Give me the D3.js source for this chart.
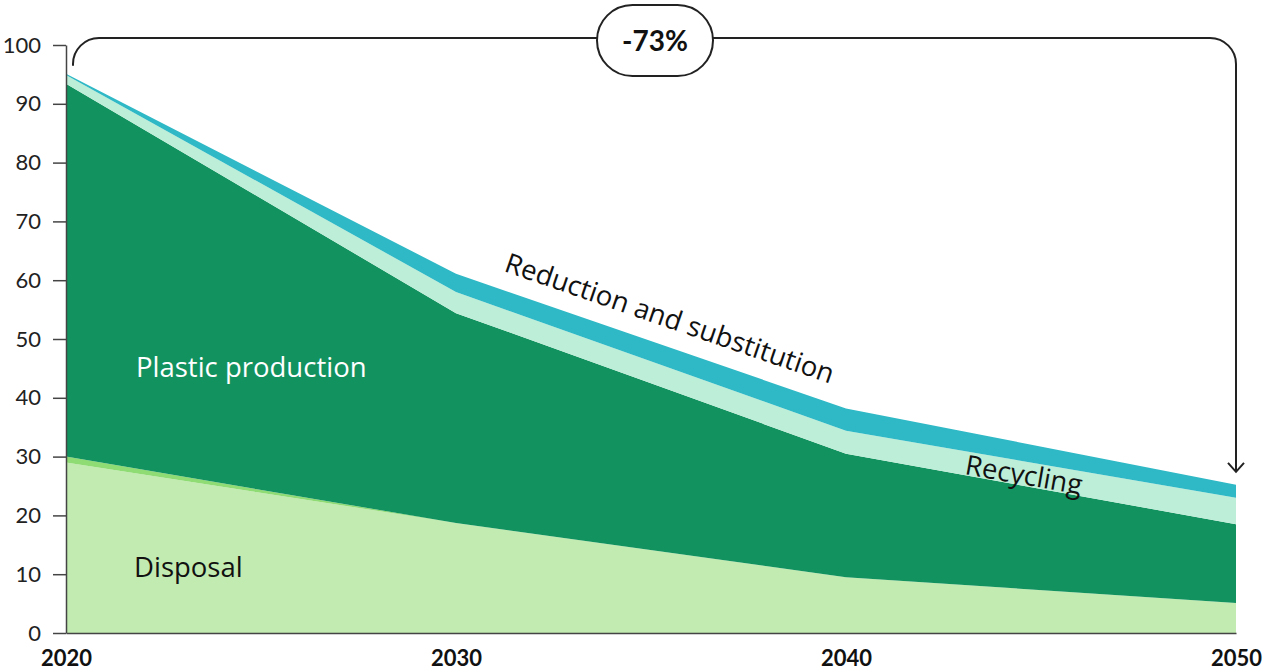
<!DOCTYPE html>
<html>
<head>
<meta charset="utf-8">
<script src="https://cdn.jsdelivr.net/npm/d3@7"></script>
<style>
  html, body { margin: 0; padding: 0; background: #ffffff; }
  svg { display: block; font-family: Lato, "Open Sans", sans-serif; }
  .series-label { font-family: "Open Sans", Lato, sans-serif; font-size: 27.5px; }
</style>
</head>
<body>
<svg id="chart" width="1269" height="670"></svg>
<script>
// Plastic pathway, index 2020 = 100
const years = [2020, 2030, 2040, 2050];
const disposal   = [29.0, 18.7, 9.5, 5.1];
const transition = [1.0, 0.0, 0.0, 0.0];
const production = [63.4, 35.7, 21.0, 13.4];
const recycling  = [1.5, 3.6, 3.9, 4.5];
const reduction  = [0.2, 3.1, 3.8, 2.2];
const yTicks = [0, 10, 20, 30, 40, 50, 60, 70, 80, 90, 100];
const changeLabel = "-73%";

const keys = ["disposal", "transition", "production", "recycling", "reduction"];
const colors = {
  disposal: "#c1ebb0",
  transition: "#8fdb74",
  production: "#12925f",
  recycling: "#bdeed7",
  reduction: "#2fb8c5"
};

const rows = years.map((yr, i) => ({
  year: yr,
  disposal: disposal[i],
  transition: transition[i],
  production: production[i],
  recycling: recycling[i],
  reduction: reduction[i]
}));

const svg = d3.select("#chart");
const x = d3.scaleLinear().domain([2020, 2050]).range([66, 1236]);
const y = d3.scaleLinear().domain([0, 100]).range([633, 45]);

const stacked = d3.stack().keys(keys)(rows);
const area = d3.area()
  .x(d => x(d.data.year))
  .y0(d => y(d[0]))
  .y1(d => y(d[1]));

svg.append("g").selectAll("path")
  .data(stacked)
  .join("path")
  .attr("d", area)
  .attr("fill", d => colors[d.key]);

// Y axis
const yAxis = d3.axisLeft(y).tickValues(yTicks).tickSize(13).tickPadding(12).tickSizeOuter(0);
const gy = svg.append("g").attr("transform", `translate(${x(2020)},0)`).call(yAxis);
gy.select(".domain").attr("stroke", "#444").attr("stroke-width", 1.5);
gy.selectAll(".tick line").attr("stroke", "#444").attr("stroke-width", 1.5);
gy.selectAll(".tick text")
  .attr("fill", "#222")
  .style("font-size", "22px")
  .style("font-family", "Lato, sans-serif");

// X axis baseline and year labels
const xAxis = d3.axisBottom(x).tickValues(years).tickSize(0).tickPadding(0).tickFormat(d3.format("d"));
const gx = svg.append("g").attr("transform", `translate(0,${y(0)})`).call(xAxis);
gx.select(".domain").attr("stroke", "#444").attr("stroke-width", 1.5);
gx.selectAll(".tick text")
  .attr("fill", "#111")
  .attr("dy", null)
  .attr("y", 33)
  .style("font-size", "22px")
  .style("font-weight", "700")
  .style("font-family", "Lato, sans-serif");

// Series labels
svg.append("text")
  .attr("class", "series-label")
  .attr("x", 136).attr("y", 377)
  .attr("fill", "#ffffff")
  .text("Plastic production");

svg.append("text")
  .attr("class", "series-label")
  .attr("x", 134).attr("y", 577)
  .attr("fill", "#111")
  .text("Disposal");

svg.append("text")
  .attr("class", "series-label")
  .attr("transform", "translate(503,271) rotate(19)")
  .attr("fill", "#111")
  .text("Reduction and substitution");

svg.append("text")
  .attr("class", "series-label")
  .attr("transform", "translate(964,474) rotate(10)")
  .attr("fill", "#111")
  .text("Recycling");

// Bracket showing the overall change from 2020 to 2050
const xs = x(2020) + 7, xe = x(2050);
const bracketTop = 38, r = 26;
const startY = y(95.1) - 8;
const endY = y(25.2) - 13;
const bracket = d3.path();
bracket.moveTo(xs, startY);
bracket.lineTo(xs, bracketTop + r);
bracket.arcTo(xs, bracketTop, xs + r, bracketTop, r);
bracket.lineTo(xe - r, bracketTop);
bracket.arcTo(xe, bracketTop, xe, bracketTop + r, r);
bracket.lineTo(xe, endY);
svg.append("path")
  .attr("d", bracket.toString())
  .attr("fill", "none")
  .attr("stroke", "#222")
  .attr("stroke-width", 2);

// Arrow head
svg.append("path")
  .attr("d", `M${xe - 8},${endY - 9} L${xe},${endY} L${xe + 8},${endY - 9}`)
  .attr("fill", "none")
  .attr("stroke", "#222")
  .attr("stroke-width", 2);

// Change badge
const bx = 655, bw = 116, bh = 71;
svg.append("rect")
  .attr("x", bx - bw / 2).attr("y", 5)
  .attr("width", bw).attr("height", bh)
  .attr("rx", bh / 2).attr("ry", bh / 2)
  .attr("fill", "#ffffff")
  .attr("stroke", "#222")
  .attr("stroke-width", 2);
svg.append("text")
  .attr("x", bx).attr("y", 51)
  .attr("text-anchor", "middle")
  .attr("fill", "#111")
  .style("font-size", "28px")
  .style("font-weight", "700")
  .text(changeLabel);
</script>
</body>
</html>
